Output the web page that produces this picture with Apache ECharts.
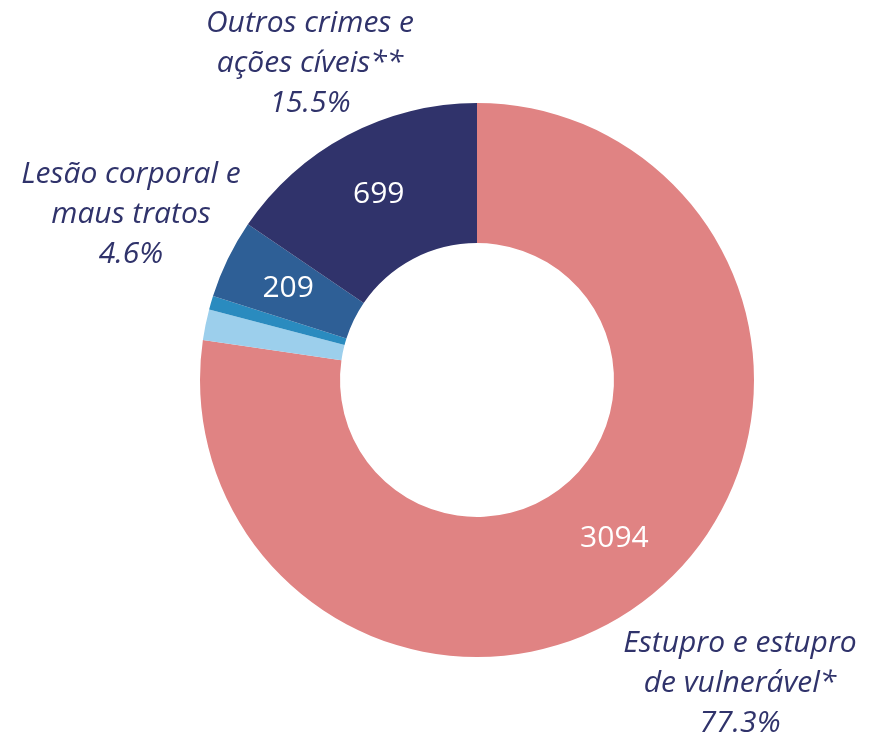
<html lang="pt">
<head>
    <meta charset="UTF-8">
    <title>Chart</title>
    <style>
        html, body { margin: 0; padding: 0; background: #fff; }
        #echart { width: 871px; height: 734px; }
    </style>
</head>
<body>
    <div id="echart"></div>
    <script src="https://cdn.jsdelivr.net/npm/echarts@6/dist/echarts.min.js"></script>
    <script>
        // slice data, clockwise from 12 o'clock
        const names = ['Estupro e estupro\nde vulnerável*', 'Outros (a)', 'Outros (b)', 'Lesão corporal e\nmaus tratos', 'Outros crimes e\nações cíveis**']
        const shares = [77.3, 1.8, 0.8, 4.6, 15.5]
        const counts = ['3094', '', '', '209', '699']
        const colors = ['#E08383', '#9CCFEC', '#2A8BBF', '#2E5F96', '#30336B']

        // outside label anchor for each named slice
        const outerPos = {
            0: [740, 683],
            3: [131, 214],
            4: [310, 63]
        }

        const echart = echarts.init(document.getElementById('echart'))

        const data = names.map((n, i) => ({
            name: n,
            value: shares[i],
            count: counts[i],
            itemStyle: { color: colors[i] }
        }))

        echart.setOption({
            animation: false,
            series: [
                {
                    type: 'pie',
                    center: [477, 380],
                    radius: [137, 277],
                    startAngle: 90,
                    silent: true,
                    data: data,
                    label: {
                        show: true,
                        position: 'inside',
                        formatter: p => p.data.count,
                        color: '#fff',
                        fontFamily: 'Open Sans',
                        fontSize: 30
                    },
                    labelLine: { show: false }
                },
                {
                    // same donut, only for the outside category labels
                    type: 'pie',
                    center: [477, 380],
                    radius: [137, 277],
                    startAngle: 90,
                    silent: true,
                    data: data.map((d, i) => ({
                        name: d.name,
                        value: d.value,
                        itemStyle: { color: 'transparent' },
                        label: { show: outerPos[i] !== undefined }
                    })),
                    label: {
                        position: 'outside',
                        formatter: p => p.name + '\n' + p.value.toFixed(1) + '%',
                        color: '#30336B',
                        fontFamily: 'Open Sans',
                        fontStyle: 'italic',
                        fontSize: 30,
                        lineHeight: 40,
                        align: 'center',
                        overflow: 'none',
                        width: 400
                    },
                    labelLine: { show: false },
                    labelLayout: p => {
                        const pos = outerPos[p.dataIndex]
                        if (!pos) return {}
                        return { x: pos[0], y: pos[1], align: 'center', verticalAlign: 'middle' }
                    }
                }
            ]
        })
    </script>
</body>
</html>
